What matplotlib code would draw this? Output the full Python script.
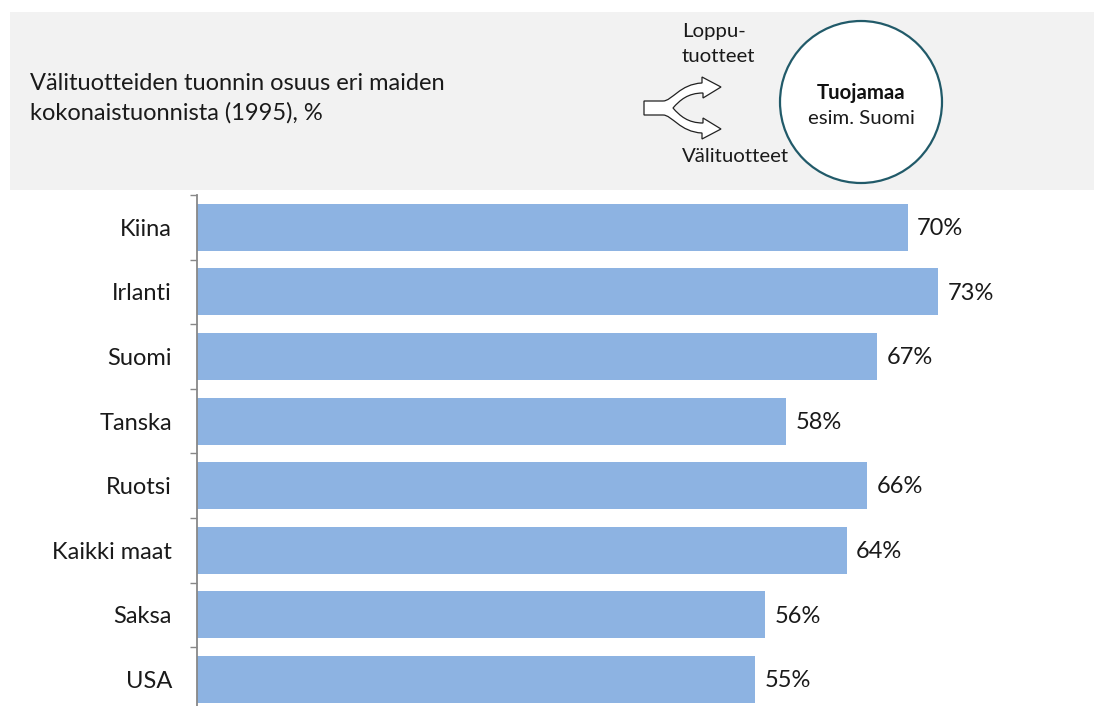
import matplotlib
matplotlib.use("Agg")
import matplotlib.pyplot as plt
from matplotlib.patches import Rectangle, Circle, PathPatch
from matplotlib.path import Path

plt.rcParams['font.family'] = ['Lato', 'DejaVu Sans']

categories = ["Kiina", "Irlanti", "Suomi", "Tanska", "Ruotsi", "Kaikki maat", "Saksa", "USA"]
values = [70, 73, 67, 58, 66, 64, 56, 55]
value_labels = ["70%", "73%", "67%", "58%", "66%", "64%", "56%", "55%"]
title_lines = ["Välituotteiden tuonnin osuus eri maiden", "kokonaistuonnista (1995), %"]

W, H = 1094, 706
FS = 17
FS_SMALL = 14.7
fig = plt.figure(figsize=(W / 100, H / 100), dpi=100)
fig.patch.set_facecolor("white")

# overlay axes in pixel coordinates for header decoration
bg = fig.add_axes([0, 0, 1, 1])
bg.set_xlim(0, W)
bg.set_ylim(H, 0)
bg.axis("off")
bg.add_patch(Rectangle((10, 12), W - 10, 178, facecolor="#F2F2F2", edgecolor="none"))
for yy, line in zip([83, 113], title_lines):
    bg.text(30, yy, line, fontsize=FS, va="center", ha="left", color="#1a1a1a")

# forked arrow
verts = [
    (644, 101), (663, 101),
    (672, 101), (680, 84), (702, 83),
    (702, 77), (721, 87), (703, 98), (703, 93),
    (688, 93), (680, 100), (673, 108),
    (680, 116), (688, 123), (703, 123),
    (703, 118), (721, 129), (702, 139), (702, 133),
    (680, 132), (672, 115), (663, 115),
    (644, 115), (644, 101),
]
codes = [Path.MOVETO, Path.LINETO,
         Path.CURVE4, Path.CURVE4, Path.CURVE4,
         Path.LINETO, Path.LINETO, Path.LINETO, Path.LINETO,
         Path.CURVE4, Path.CURVE4, Path.CURVE4,
         Path.CURVE4, Path.CURVE4, Path.CURVE4,
         Path.LINETO, Path.LINETO, Path.LINETO, Path.LINETO,
         Path.CURVE4, Path.CURVE4, Path.CURVE4,
         Path.LINETO, Path.CLOSEPOLY]
bg.add_patch(PathPatch(Path(verts, codes), facecolor="white", edgecolor="#222222", lw=0.9))

bg.text(682, 31, "Loppu-", fontsize=FS_SMALL, va="center", ha="left", color="#1a1a1a")
bg.text(682, 56, "tuotteet", fontsize=FS_SMALL, va="center", ha="left", color="#1a1a1a")
bg.text(682, 156, "Välituotteet", fontsize=FS_SMALL, va="center", ha="left", color="#1a1a1a")

bg.add_patch(Circle((861, 102), 81, facecolor="white", edgecolor="#215A69", lw=1.6))
bg.text(861, 93, "Tuojamaa", fontsize=FS_SMALL, fontweight="bold", ha="center", va="center", color="#111111")
bg.text(861, 119, "esim. Suomi", fontsize=FS_SMALL, ha="center", va="center", color="#1a1a1a")

# main bar chart axes
left_px, top_px = 197, 195
row_px = 64.6
n = len(categories)
ax_h = n * row_px
px_per_unit = 10.15
xmax = (W - left_px) / px_per_unit
ax = fig.add_axes([left_px / W, (H - top_px - ax_h) / H, (W - left_px) / W, ax_h / H])
ax.set_facecolor("none")
pos = list(range(n))
ax.barh(pos, values, height=0.73, color="#8DB3E2", edgecolor="none")
ax.set_xlim(0, xmax)
ax.set_ylim(n - 0.5, -0.5)
for p, v, lab in zip(pos, values, value_labels):
    ax.text(v + 0.95, p + 0.02, lab, va="center", ha="left", fontsize=FS, color="#1a1a1a")

ax.set_yticks([i - 0.5 for i in range(n + 1)])
ax.set_yticklabels([])
ax.set_yticks(pos, minor=True)
ax.set_yticklabels(categories, minor=True, fontsize=FS, color="#1a1a1a")
ax.tick_params(axis="y", which="major", length=5, width=1, color="#888888", direction="out")
ax.tick_params(axis="y", which="minor", length=0, pad=18)
ax.set_xticks([])
for s in ["top", "right", "bottom"]:
    ax.spines[s].set_visible(False)
ax.spines["left"].set_color("#888888")
ax.spines["left"].set_linewidth(1.3)

fig.savefig("out.png", dpi=100)
